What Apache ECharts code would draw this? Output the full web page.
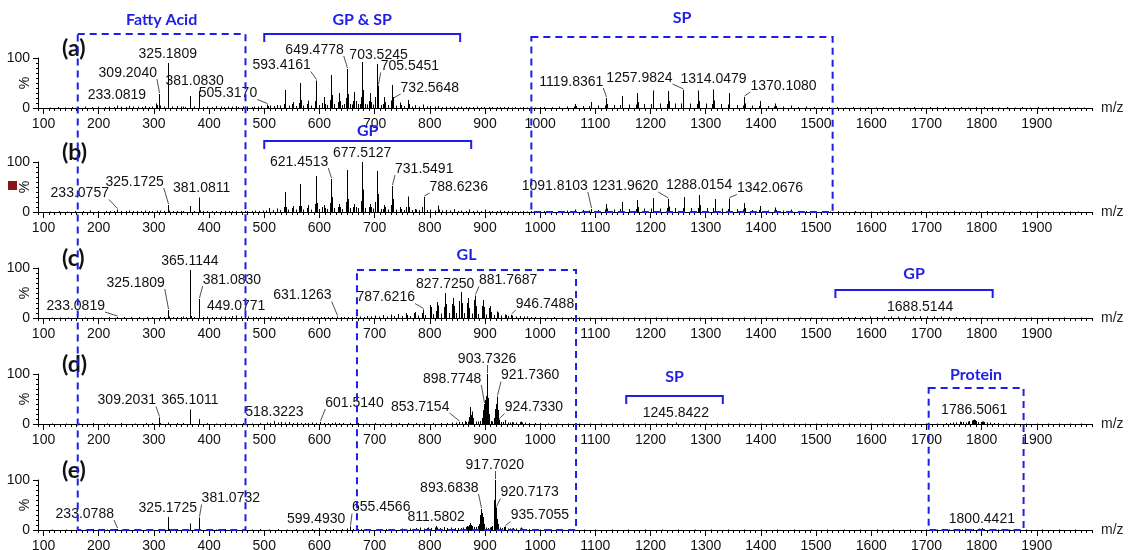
<!DOCTYPE html>
<html><head><meta charset="utf-8">
<script src="https://cdn.jsdelivr.net/npm/echarts@6/dist/echarts.min.js"></script>
<style>html,body{margin:0;padding:0;background:#fff}#c{width:1131px;height:550px}</style>
</head><body><div id="c"></div>
<script>
// ---------------- DATA ----------------
const xTickLabels = [100,200,300,400,500,600,700,800,900,1000,1100,1200,1300,1400,1500,1600,1700,1800,1900];
const panelNames = ['(a)','(b)','(c)','(d)','(e)'];

const peaksA = [[112,1],[126,2],[139,1],[151,2],[163,2],[175,3],[187,2],[199,3],[211,2],[219,3],[227,2],[233.0819,5],[241,3],[249,2],[255,4],[263,3],[271,3],[279,2],[283,4],[291,2],[297,3],[303,9],[305,6],[309.2040,28],[311,5],[319,3],[325.1809,90],[326.2,10],[333,3],[341,4],[349,3],[353,3],[357,2],[365.1,24],[366.1,4],[373,3],[381.0830,34],[382.1,5],[389,2],[397,3],[405,2],[413,4],[421,3],[427,2],[435,3],[441,3],[449,4],[453,2],[461,3],[469,3],[477,2],[481,3],[489,3],[495,4],[505.3170,7],[507,4],[511,5],[517,4],[523,6],[529,5],[535.4,8],[537.4,36],[538.4,12],[545,5],[549.4,8],[551.4,12],[557,4],[563.4,10],[565.4,50],[566.4,16],[571,5],[577.4,8],[579.4,15],[585,5],[591.4,14],[593.4161,55],[594.4,20],[599,6],[605.4,10],[607.4,22],[609.4,8],[613,6],[619.4,16],[621.4,66],[622.4,26],[623.4,22],[627,8],[633.5,12],[635.5,30],[637.5,14],[641,6],[645,8],[647.5,20],[649.4778,78],[650.5,32],[651.5,28],[655,8],[659,7],[661.5,14],[663.5,32],[665.5,14],[669,8],[673,8],[675.5,22],[677.5,92],[678.5,36],[679.5,30],[683,8],[687,7],[689.5,14],[691.5,30],[693.5,12],[697,7],[701.5,22],[703.5245,88],[704.5,36],[705.5451,45],[706.5,16],[711,6],[715,8],[717.5,22],[719.5,12],[725,6],[729.5,15],[731.5,46],[732.5648,18],[733.5,22],[739,5],[745.5,11],[747.5,6],[753,4],[759.6,16],[761.6,8],[767,3],[773,6],[781,3],[787,7],[795,3],[801,4],[809,3],[815,4],[823,2],[829,3],[837,2],[843,3],[851,2],[857,3],[865,2],[871,2],[879,2],[885,3],[893,2],[899,2],[907,2],[913,2],[921,2],[927,2],[935,2],[941,2],[949,1],[955,2],[963,1],[969,2],[977,1],[983,2],[991,1],[1000,2],[1007,2],[1021,2],[1035,3],[1049,3],[1061,3],[1063,8],[1065,4],[1077,4],[1089,4],[1091.8,12],[1093,6],[1105,5],[1117,5],[1119.8361,20],[1121,8],[1133,6],[1145,6],[1147.9,24],[1149,10],[1161,7],[1173,7],[1175.9,30],[1177,12],[1189,8],[1201,8],[1203.9,35],[1205,14],[1217,9],[1229,8],[1231.9,34],[1233,14],[1245,9],[1255,9],[1257.9824,36],[1259,15],[1272,9],[1284,8],[1286,35],[1287,14],[1300,9],[1312,8],[1314.0479,37],[1315,15],[1328,8],[1340,7],[1342.1,30],[1343,12],[1356,6],[1368,5],[1370.1080,22],[1371,9],[1384,5],[1396,4],[1398,14],[1399,6],[1412,4],[1424,3],[1426,9],[1427,4],[1440,3],[1454,5],[1468,2],[1482,3],[1496,2],[1510,2],[1524,2],[1538,2],[1552,1],[1566,2],[1580,1],[1594,2],[1608,1],[1622,2],[1636,1],[1650,2],[1664,1],[1678,2],[1692,1],[1706,2],[1720,2],[1734,2],[1748,1],[1762,2],[1776,1],[1790,2],[1804,2],[1818,2],[1832,1],[1846,2],[1860,1],[1874,2],[1888,1],[1902,2],[1916,1],[1930,2],[1944,1],[1958,2],[1972,1],[1986,1]];

const peaksB = [[112,1],[128,2],[143,1],[157,2],[171,2],[185,3],[199,2],[213,2],[221,2],[227,2],[233.0757,5],[241,2],[249,2],[255,3],[263,2],[269,2],[277,2],[283,3],[291,2],[297,2],[305,3],[311,3],[319,2],[325.1725,14],[327,3],[335,2],[341,2],[349,2],[353,2],[365.1,12],[366,3],[373,2],[381.0811,29],[383,3],[389,2],[397,2],[405,2],[413,2],[421,2],[429,2],[437,2],[441,2],[449,2],[457,2],[465,2],[469,2],[477,2],[483,3],[491,2],[497,3],[503,3],[509,8],[515,4],[523,7],[529,4],[535.4,10],[537.4,40],[539.4,10],[543,5],[549.4,8],[551.4,12],[557,5],[563.4,12],[565.4,56],[567.4,12],[571,5],[577.4,8],[579.4,14],[585,5],[591.4,16],[593.4,72],[595.4,18],[599,6],[605.4,10],[607.4,14],[609.4,8],[613,6],[619.4,18],[621.4513,66],[622.5,30],[623.5,24],[627,8],[633.5,10],[635.5,16],[637.5,10],[641,6],[647.5,20],[649.5,84],[650.5,36],[651.5,26],[655,8],[661.5,10],[663.5,16],[665.5,10],[669,8],[675.5,22],[677.5127,100],[678.5,45],[679.5,32],[683,8],[689.5,10],[691.5,16],[693.5,10],[697,7],[701.5,20],[703.5,82],[704.5,40],[705.5,36],[706.5,14],[711,6],[715,6],[717.5,14],[719.5,10],[725,5],[729.5,14],[731.5491,52],[732.5,26],[733.5,18],[739,5],[745.5,10],[747.5,6],[753,4],[757.6,10],[759.6,31],[760.6,12],[761.6,10],[767,4],[773,6],[775,5],[781,4],[786.6,10],[788.6236,30],[789.6,12],[795,4],[801,5],[809,3],[815.7,13],[817,5],[823,3],[829,4],[837,3],[843.7,6],[851,2],[857,3],[865,2],[871.7,5],[879,2],[885,3],[893,2],[899.7,5],[907,2],[913,2],[921,2],[927,3],[935,2],[941,2],[949,1],[955,2],[963,1],[969,2],[977,1],[983,2],[991,1],[1000,2],[1007,2],[1021,2],[1035,2],[1049,3],[1063,5],[1077,4],[1089,3],[1091.8103,6],[1105,4],[1117,5],[1119.9,16],[1121,7],[1133,5],[1145,6],[1147.9,20],[1149,8],[1161,6],[1173,6],[1175.9,24],[1177,10],[1189,7],[1201,7],[1203.9,28],[1205,11],[1217,7],[1229,8],[1231.9620,26],[1233,11],[1245,8],[1258,8],[1259.9,30],[1261,13],[1274,8],[1286,8],[1288.0154,34],[1289,14],[1302,8],[1314,8],[1316,26],[1317,11],[1330,7],[1340,6],[1342.0676,27],[1343,11],[1356,6],[1368,5],[1370,18],[1371,8],[1384,4],[1396,4],[1398,12],[1399,5],[1412,3],[1424,3],[1426,9],[1427,4],[1440,3],[1454,5],[1468,2],[1482,2],[1496,2],[1510,2],[1525,1],[1540,2],[1555,1],[1570,2],[1585,1],[1600,1],[1615,1],[1630,2],[1645,1],[1660,1],[1675,1],[1690,2],[1705,1],[1720,1],[1735,1],[1750,2],[1765,1],[1780,1],[1795,1],[1810,2],[1825,1],[1840,1],[1855,1],[1870,2],[1885,1],[1900,1],[1915,1],[1930,1],[1945,1],[1960,1],[1975,1]];

const peaksC = [[115,1],[130,1],[145,1],[160,2],[175,1],[190,2],[205,1],[219,2],[233.0819,2],[245,2],[259,2],[273,2],[287,2],[297,2],[311,2],[319,2],[325.1809,16],[327,3],[335,2],[341,2],[349,2],[353,3],[359,2],[365.1144,96],[366.1,10],[367.1,4],[373,2],[381.0830,38],[382.1,5],[389,2],[397,3],[405,2],[413,2],[421,3],[429,3],[437,2],[441,4],[449.0771,5],[457,3],[465,2],[471,3],[479,2],[485,2],[493,2],[499,2],[507,2],[513,3],[521,2],[527,2],[535,2],[543,3],[551,2],[559,2],[565,2],[571,2],[579,2],[587,3],[595,2],[603,2],[609,2],[615,2],[623,2],[631.1263,3],[639,2],[645,2],[651,2],[659,2],[666,2],[673,3],[680,2],[687,4],[694,3],[701,5],[708,3],[715,6],[722,3],[729,7],[736,4],[743,8],[750,4],[757,10],[759,6],[764,4],[771,10],[773.6,12],[778,5],[785.6,10],[787.6216,17],[792,6],[799.7,26],[801.7,22],[806,8],[811.7,14],[813.7,32],[815.7,25],[820,9],[825.7,22],[827.7250,50],[829.7,28],[834,10],[839.7,28],[841.7,40],[843.7,24],[848,10],[853.7,34],[855.7,52],[857.7,30],[862,10],[867.7,30],[869.7,40],[871.7,20],[876,9],[879.7,36],[881.7687,45],[883.7,24],[888,8],[893.7,24],[895.7,36],[897.7,22],[902,7],[907.7,20],[909.7,24],[911.7,12],[916,6],[921.7,13],[923.7,11],[929,5],[935.7,7],[937.7,6],[942,4],[946.7488,6],[949,5],[956,3],[963,4],[970,3],[977,3],[984,2],[991,2],[1000,2],[1012,1],[1025,2],[1040,1],[1055,1],[1070,1],[1090,1],[1110,1],[1130,1],[1150,1],[1170,1],[1190,1],[1210,1],[1230,1],[1250,1],[1270,1],[1290,1],[1310,1],[1330,1],[1350,1],[1370,1],[1390,1],[1410,1],[1430,1],[1450,1],[1470,1],[1490,1],[1510,1],[1530,1],[1545,2],[1558,2],[1571,2],[1584,2],[1597,3],[1610,2],[1623,3],[1636,3],[1649,3],[1662,3],[1675,3],[1688.5144,4],[1701,3],[1714,3],[1727,3],[1740,2],[1753,2],[1766,2],[1779,1],[1800,1],[1830,1],[1860,1],[1890,1],[1920,1],[1950,1],[1980,1]];

const peaksD = [[115,1],[140,1],[165,1],[190,2],[215,1],[240,2],[265,1],[285,2],[297,2],[309.2031,13],[311,2],[325,3],[341,2],[353,2],[365.1011,29],[366,4],[381,10],[397,2],[413,1],[429,2],[445,1],[461,2],[477,1],[493,2],[505,3],[511,2],[518.3223,6],[525,3],[531,4],[538,3],[545,4],[552,2],[559,3],[566,2],[573,2],[580,2],[587,3],[594,2],[601.5140,4],[608,2],[615,2],[622,2],[629,3],[636,2],[643,2],[655,2],[670,2],[685,1],[700,2],[715,1],[730,2],[745,2],[760,2],[775,2],[790,2],[805,2],[820,2],[832,2],[840,3],[847,3],[853.7154,4],[859,4],[863,6],[865,4],[869,5],[871.7,14],[873.7,34],[874.7,18],[875.7,25],[877.7,12],[879,8],[883,5],[887,5],[891,6],[893.7,12],[895.7,28],[896.7,22],[897.7,38],[898.7748,40],[899.7,48],[900.7,40],[901.7,56],[902.7,48],[903.7326,100],[904.7,52],[905.7,36],[906.7,20],[907.7,14],[910,6],[913,5],[915.7,12],[917.7,30],[918.7,20],[919.7,40],[920.7,30],[921.7360,55],[922.7,28],[923.7,14],[924.7330,9],[926,6],[929,4],[933,4],[935.7,8],[937,5],[941,3],[945,3],[949,4],[951,3],[957,3],[963,4],[965,5],[967,3],[972,3],[980,2],[990,2],[1000,2],[1015,1],[1030,1],[1050,1],[1070,1],[1090,1],[1110,1],[1130,1],[1150,1],[1170,1],[1190,1],[1210,1],[1230,2],[1245.8422,3],[1260,1],[1280,1],[1300,1],[1320,1],[1340,1],[1360,1],[1380,1],[1400,1],[1420,1],[1440,1],[1460,1],[1480,1],[1500,1],[1520,1],[1540,1],[1560,1],[1580,1],[1600,1],[1620,1],[1640,1],[1660,1],[1680,1],[1700,1],[1720,1],[1735,2],[1742,2],[1748,3],[1754,3],[1760,5],[1763,4],[1766,4],[1772,3],[1776,5],[1778,6],[1782,7],[1784,8],[1786.5061,9],[1788,8],[1790,6],[1794,4],[1798,4],[1800,5],[1803,5],[1805,4],[1810,3],[1815,3],[1822,2],[1830,2],[1845,1],[1860,1],[1880,1],[1900,1],[1920,1],[1940,1],[1960,1],[1980,1]];

const peaksE = [[115,1],[140,1],[165,1],[190,2],[215,1],[233.0788,2],[250,1],[270,1],[290,2],[309,2],[315,1],[325.1725,26],[327,2],[341,2],[355,1],[365,13],[366,2],[381.0732,25],[383,2],[397,2],[413,1],[429,2],[445,1],[461,2],[477,1],[493,2],[509,1],[525,2],[541,1],[557,2],[573,1],[587,2],[599.4930,4],[611,2],[625,2],[640,2],[650,3],[655.4566,7],[660,2],[675,2],[690,2],[705,2],[720,2],[735,2],[750,3],[765,3],[775,4],[783,5],[789,3],[795,4],[797,5],[803,4],[809,5],[811.5802,8],[813,5],[818,4],[825,6],[832,4],[839,5],[845,4],[851,4],[857,4],[861,5],[865,6],[867,8],[869,7],[871,10],[873,14],[875,10],[877,8],[880,6],[884,6],[887,8],[889,12],[890.7,20],[891.7,30],[892.7,34],[893.6838,42],[894.7,34],[895.7,26],[896.7,16],[897.7,12],[899,6],[902,5],[905,4],[909,5],[911,6],[913,8],[915.7,35],[916.7,60],[917.7020,100],[918.7,58],[919.7,42],[920.7173,45],[921.7,22],[922.7,12],[924,7],[927,5],[930,4],[933.7,6],[935.7055,7],[937,4],[941,3],[945,3],[949,3],[951,4],[957,3],[963,3],[965,5],[967,3],[972,2],[980,2],[990,1],[1000,1],[1020,1],[1040,1],[1060,1],[1080,1],[1100,1],[1130,1],[1160,1],[1190,1],[1220,1],[1250,1],[1280,1],[1310,1],[1340,1],[1370,1],[1400,1],[1430,1],[1460,1],[1490,1],[1520,1],[1550,1],[1580,1],[1610,1],[1640,1],[1670,1],[1700,1],[1720,1],[1740,1],[1755,2],[1765,2],[1770,3],[1775,2],[1785,2],[1795,3],[1800.4421,4],[1805,2],[1815,2],[1830,1],[1850,1],[1880,1],[1910,1],[1940,1],[1970,1]];

// labelled peaks (m/z)
const annotA = [233.0819,309.2040,325.1809,381.0830,505.3170,593.4161,649.4778,703.5245,705.5451,732.5648,1119.8361,1257.9824,1314.0479,1370.1080];
const annotB = [233.0757,325.1725,381.0811,621.4513,677.5127,731.5491,788.6236,1091.8103,1231.9620,1288.0154,1342.0676];
const annotC = [233.0819,325.1809,365.1144,381.0830,449.0771,631.1263,787.6216,827.7250,881.7687,946.7488,1688.5144];
const annotD = [309.2031,365.1011,518.3223,601.5140,853.7154,898.7748,903.7326,921.7360,924.7330,1245.8422,1786.5061];
const annotE = [233.0788,325.1725,381.0732,599.4930,655.4566,811.5802,893.6838,917.7020,920.7173,935.7055,1800.4421];

// highlighted m/z regions
const boxNames = ['Fatty Acid','SP','GL','Protein'];
const boxFrom = [162, 984, 668, 1704];
const boxTo = [466, 1530, 1065, 1876];
const bracketNames = ['GP & SP','GP','GP','SP'];
const bracketFrom = [500, 500, 1535, 1156];
const bracketTo = [855, 875, 1820, 1331];

// ---------------- LAYOUT / STYLE ----------------
const X_MIN = 90, X_MAX = 2000;
const L = 38, R = 39;
const panelTop = [58, 162, 268, 374, 480];
const panelH = 50;
const BLUE = '#1e1ee6';
const FONT = '"Liberation Sans", Arial, sans-serif';
const LABEL_FONT = '14px ' + FONT;
// label offsets [dx, dy, align, leader]
const labA = [[0,-3,'center',0],[-2,-14,'right',1],[0,-2,'center',0],[-4,-3,'center',0],[-10,-4,'right',1],[-5,-8,'right',1],[-3,-12,'right',1],[2,-2,'center',0],[3,-12,'left',1],[8,-4,'left',1],[-3,-9,'right',1],[-10,-5,'right',1],[0,-3,'center',0],[6,-4,'left',1]];
const labB = [[-8,-9,'right',1],[-4,-16,'right',1],[3,-2,'center',0],[-3,-10,'right',1],[0,-2,'center',0],[3,-10,'left',1],[6,-3,'left',1],[-3,-16,'right',1],[-10,-6,'right',1],[0,-3,'center',0],[8,-3,'left',1]];
const labC = [[-12,-4,'right',1],[-3,-20,'right',1],[0,-2,'center',0],[4,-12,'left',1],[0,-2,'center',0],[-5,-14,'right',1],[-8,-5,'right',1],[0,-2,'center',0],[4,-8,'left',1],[5,-4,'left',1],[0,-2,'center',0]];
const labD = [[-3,-10,'right',1],[0,-2,'center',0],[0,-2,'center',0],[5,-12,'left',1],[-10,-8,'right',1],[-3,-18,'right',1],[0,-8,'center',1],[4,-14,'left',1],[6,-5,'left',1],[0,-2,'center',0],[0,-2,'center',0]];
const labE = [[-3,-8,'right',1],[0,-2,'center',0],[3,-12,'left',1],[-3,-2,'center',0],[2,-12,'left',1],[0,-2,'center',0],[-3,-14,'right',1],[0,-8,'center',1],[4,-8,'left',1],[6,-4,'left',1],[0,-2,'center',0]];
const boxLayout = [{p0:0,top:-24,p1:4,gap:6},{p0:0,top:-21,p1:1,gap:11},{p0:2,top:2,p1:4,gap:7},{p0:3,top:14,p1:4,gap:5}];
const bracketLayout = [{p:0,top:-24,gap:6},{p:1,top:-21,gap:2},{p:2,top:22,gap:8},{p:3,top:22,gap:11}];

const panels = [
  {peaks:peaksA, annot:annotA, lab:labA},
  {peaks:peaksB, annot:annotB, lab:labB},
  {peaks:peaksC, annot:annotC, lab:labC},
  {peaks:peaksD, annot:annotD, lab:labD},
  {peaks:peaksE, annot:annotE, lab:labE}
];

const minorTicks = [];
for (let v = X_MIN; v <= X_MAX; v += 10) minorTicks.push(v);

function renderPeak(params, api) {
  const x = api.value(0), y = api.value(1);
  const top = api.coord([x, y]);
  const base = api.coord([x, 0]);
  const px = Math.round(top[0]) + 0.5;
  return {type:'line', shape:{x1:px, y1:top[1], x2:px, y2:base[1]}, style:{stroke:'#000', lineWidth:1}};
}
function makeAnnotRender(lab) {
  return function (params, api) {
    const mz = api.value(0), v = api.value(1), k = api.value(2);
    const p = api.coord([mz, v]);
    const o = lab[k];
    const ax = p[0] + o[0], ay = p[1] + o[1];
    const ch = [{type:'text', style:{text: mz.toFixed(4), x: ax, y: ay, align: o[2], verticalAlign:'bottom', font:LABEL_FONT, fill:'#111'}}];
    if (o[3]) ch.push({type:'line', shape:{x1:Math.round(p[0])+0.5, y1:p[1]-1, x2:o[2]==='center'?Math.round(p[0])+0.5:ax, y2:ay-1}, style:{stroke:'#222', lineWidth:0.8}});
    return {type:'group', children: ch};
  };
}

const grids = [], xAxes = [], yAxes = [], series = [], graphics = [];
panels.forEach((pn, i) => {
  grids.push({left:L, right:R, top:panelTop[i], height:panelH, outerBoundsMode:'none', containLabel:false});
  xAxes.push({gridIndex:i, type:'value', position:'bottom', min:X_MIN, max:X_MAX,
    name:'m/z', nameLocation:'end', nameGap:9, nameMoveOverlap:false, nameTextStyle:{fontSize:14, fontFamily:FONT, color:'#222'},
    axisLine:{show:true, onZero:false, lineStyle:{color:'#000', width:1}},
    axisTick:{show:true, customValues:xTickLabels, length:6, lineStyle:{color:'#000'}},
    axisLabel:{customValues:xTickLabels, formatter: v => String(v), fontSize:14, fontFamily:FONT, color:'#111', margin:9},
    splitLine:{show:false}});
  xAxes.push({gridIndex:i, type:'value', position:'bottom', min:X_MIN, max:X_MAX,
    axisLine:{show:false}, axisTick:{show:true, customValues:minorTicks, length:3, lineStyle:{color:'#000'}},
    axisLabel:{show:false}, splitLine:{show:false}});
  yAxes.push({gridIndex:i, type:'value', min:0, max:100, interval:100,
    name:'%', nameLocation:'middle', nameGap:6, nameRotate:90, nameMoveOverlap:false, nameTextStyle:{fontSize:14, fontFamily:FONT, color:'#111'},
    axisLine:{show:true, lineStyle:{color:'#000', width:1}},
    axisTick:{show:true, length:5, lineStyle:{color:'#000'}},
    minorTick:{show:true, splitNumber:10, length:2, lineStyle:{color:'#000'}},
    axisLabel:{fontSize:14, fontFamily:FONT, color:'#111', margin:8},
    splitLine:{show:false}, minorSplitLine:{show:false}});
  series.push({type:'custom', xAxisIndex:2*i, yAxisIndex:i, renderItem:renderPeak, data:pn.peaks, encode:{x:0, y:1}, clip:true, silent:true});
  const adata = pn.annot.map((mz, k) => {
    const pk = pn.peaks.find(q => Math.abs(q[0] - mz) < 0.001);
    return [mz, pk ? pk[1] : 0, k];
  });
  series.push({type:'custom', xAxisIndex:2*i, yAxisIndex:i, renderItem:makeAnnotRender(pn.lab), data:adata, encode:{x:0, y:1}, clip:false, silent:true, z:5});
  graphics.push({type:'text', left:62, top:panelTop[i] - 21, style:{text:panelNames[i], font:'bold 23px Lato, "Open Sans", sans-serif', fill:'#111'}});
});

// overlay grid for region boxes / brackets spanning panels
grids.push({left:L, right:R, top:0, height:550, outerBoundsMode:'none', containLabel:false});
xAxes.push({gridIndex:5, type:'value', min:X_MIN, max:X_MAX, show:false});
yAxes.push({gridIndex:5, type:'value', min:0, max:550, inverse:true, show:false});
const regionFont = 'bold 16px Lato, "Open Sans", sans-serif';
series.push({type:'custom', xAxisIndex:10, yAxisIndex:5, clip:false, silent:true, z:20,
  data: boxNames.map((n, k) => [boxFrom[k], boxTo[k], k]),
  renderItem: function (params, api) {
    const k = api.value(2), lay = boxLayout[k];
    const yT = panelTop[lay.p0] + lay.top, yB = panelTop[lay.p1] + panelH;
    const p1 = api.coord([api.value(0), yT]), p2 = api.coord([api.value(1), yB]);
    return {type:'group', children:[
      {type:'rect', shape:{x:p1[0], y:p1[1], width:p2[0]-p1[0], height:p2[1]-p1[1]}, style:{fill:'none', stroke:BLUE, lineWidth:2, lineDash:[7,5]}},
      {type:'text', style:{text:boxNames[k], x:(p1[0]+p2[0])/2, y:p1[1]-lay.gap, align:'center', verticalAlign:'bottom', font:regionFont, fill:BLUE}}
    ]};
  }});
series.push({type:'custom', xAxisIndex:10, yAxisIndex:5, clip:false, silent:true, z:20,
  data: bracketNames.map((n, k) => [bracketFrom[k], bracketTo[k], k]),
  renderItem: function (params, api) {
    const k = api.value(2), lay = bracketLayout[k];
    const y = panelTop[lay.p] + lay.top;
    const p1 = api.coord([api.value(0), y]), p2 = api.coord([api.value(1), y]);
    return {type:'group', children:[
      {type:'polyline', shape:{points:[[p1[0], p1[1]+8],[p1[0], p1[1]],[p2[0], p2[1]],[p2[0], p2[1]+8]]}, style:{fill:'none', stroke:BLUE, lineWidth:2}},
      {type:'text', style:{text:bracketNames[k], x:(p1[0]+p2[0])/2, y:p1[1]-lay.gap, align:'center', verticalAlign:'bottom', font:regionFont, fill:BLUE}}
    ]};
  }});

graphics.push({type:'rect', left:8, top:181, shape:{width:9, height:9}, style:{fill:'#8b1515'}});

const chart = echarts.init(document.getElementById('c'));
chart.setOption({
  animation:false,
  backgroundColor:'#fff',
  grid:grids, xAxis:xAxes, yAxis:yAxes, series:series, graphic:graphics
});
</script>
</body></html>
